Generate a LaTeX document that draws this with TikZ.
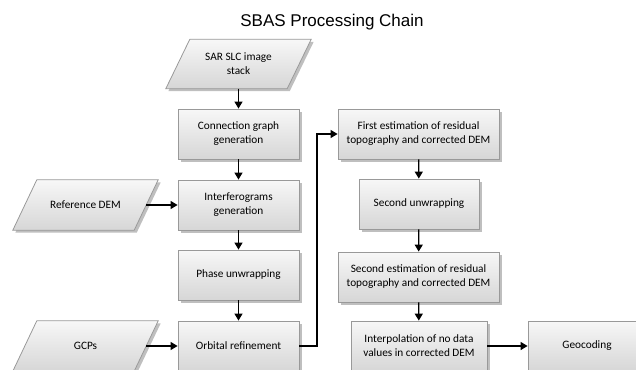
\documentclass[tikz,border=0pt]{standalone}
\usepackage{fontspec}
\setmainfont{Carlito}
\newfontfamily\titlefont{Liberation Sans}
\usetikzlibrary{arrows.meta,shadows,backgrounds}

\tikzset{
  boxfill/.style={draw=black!40, line width=0.8pt, shading=axis,
    top color=black!3, bottom color=black!16,
    drop shadow={shadow xshift=2.5pt, shadow yshift=-2.5pt, fill=black, opacity=0.25}},
  boxtext/.style={align=center, font=\fontsize{11.3}{14}\selectfont, text=black,
    inner sep=2pt, minimum height=50pt},
  procbox/.style={boxtext, boxfill},
  % text holder for a data parallelogram; the slanted outline is drawn behind it
  databox/.style={boxtext, minimum width=121pt,
    append after command={
      \pgfextra{\begin{pgfonlayer}{background}
        \path[boxfill] ([xshift=-12pt]\tikzlastnode.south west)
          -- ([xshift=-12pt]\tikzlastnode.south east)
          -- ([xshift=12pt]\tikzlastnode.north east)
          -- ([xshift=12pt]\tikzlastnode.north west) -- cycle;
      \end{pgfonlayer}}}},
  flow/.style={line width=1.3pt, -{Triangle[length=7pt,width=8pt]}}
}

\begin{document}
\begin{tikzpicture}[x=1pt, y=-1pt]
  \useasboundingbox (0,0) rectangle (636,369);
  \clip (0,0) rectangle (636,369);

  \node[font=\titlefont\fontsize{17}{20}\selectfont] (title) at (332,22) {SBAS Processing Chain};

  % left column
  \node[databox, minimum height=49pt] (sar) at (238.5,64) {SAR SLC image\\stack};
  \node[procbox, minimum width=121pt] (cg)  at (238.5,134) {Connection graph\\generation};
  \node[procbox, minimum width=121pt] (ig)  at (238.5,205) {Interferograms\\generation};
  \node[procbox, minimum width=121pt] (pu)  at (238.5,275) {Phase unwrapping};
  \node[procbox, minimum width=121pt] (orb) at (238.5,346) {Orbital refinement};

  % external inputs
  \node[databox] (ref) at (85.5,205) {Reference DEM};
  \node[databox] (gcp) at (85.5,346) {GCPs};

  % right column
  \node[procbox, minimum width=161pt] (fe)  at (418.5,134) {First estimation of residual\\topography and corrected DEM};
  \node[procbox, minimum width=120pt] (su)  at (419,204) {Second unwrapping};
  \node[procbox, minimum width=161pt] (se)  at (418.5,277) {Second estimation of residual\\topography and corrected DEM};
  \node[procbox, minimum width=136pt] (ip)  at (419,346) {Interpolation of no data\\values in corrected DEM};
  \node[procbox, minimum width=118pt] (geo) at (587,346) {Geocoding};

  % connectors
  \draw[flow] (sar) -- (cg);
  \draw[flow] (cg) -- (ig);
  \draw[flow] (ig) -- (pu);
  \draw[flow] (pu) -- (orb);
  \draw[flow] (ref.east) -- (ig.west);
  \draw[flow] (gcp.east) -- (orb.west);
  \coordinate (turn) at (317,346);
  \draw[flow] (orb.east) -- (turn) |- (fe.west);
  \draw[flow] (fe) -- (su);
  \draw[flow] (su) -- (se);
  \draw[flow] (se) -- (ip);
  \draw[flow] (ip) -- (geo);
\end{tikzpicture}
\end{document}
